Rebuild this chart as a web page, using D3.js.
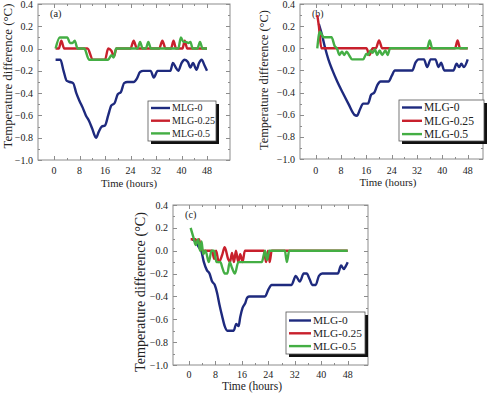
<!DOCTYPE html>
<html>
<head>
<meta charset="utf-8">
<script src="https://cdn.jsdelivr.net/npm/d3@7"></script>
<style>
  body { margin: 0; background: #fff; }
</style>
</head>
<body>
<div class="chart"></div>
<script>
// series names and colours
const names = ["MLG-0", "MLG-0.25", "MLG-0.5"];
const colors = ["#1e2a7e", "#c8202c", "#44ae44"];

const xTicks = [0, 8, 16, 24, 32, 40, 48];
const yTicks = [0.4, 0.2, 0.0, -0.2, -0.4, -0.6, -0.8, -1.0];

// panel (a): [hour, temperature difference]
const a_mlg0 = [[0.5,-0.1],[2,-0.1],[3,-0.2],[4,-0.29],[5,-0.3],[6,-0.31],[7,-0.4],[8,-0.47],[9,-0.53],[10,-0.6],[11,-0.65],[12,-0.72],[13.2,-0.8],[14,-0.75],[15,-0.7],[16,-0.69],[17,-0.6],[18,-0.51],[19,-0.49],[20,-0.41],[21,-0.39],[22,-0.31],[23,-0.3],[25,-0.3],[26,-0.27],[27,-0.21],[28,-0.2],[30.3,-0.2],[31.3,-0.26],[32.5,-0.2],[36.5,-0.2],[37.3,-0.13],[38.2,-0.17],[39,-0.2],[40,-0.13],[41,-0.1],[42,-0.12],[42.8,-0.17],[43.6,-0.13],[44.7,-0.19],[45.5,-0.13],[46.3,-0.1],[47.2,-0.15],[48,-0.2]];
const a_mlg025 = [[0.5,0],[1.5,0],[2.3,0.07],[3.2,0],[10.5,0],[12.2,-0.1],[16,-0.1],[17,0],[18,-0.02],[18.8,-0.07],[19.6,0],[24,0],[25,0.07],[26,0],[33,0],[34,0.07],[35,0],[36.7,0],[37.5,0.07],[38.3,0],[40.3,0],[41,0.07],[41.8,0],[48,0]];
const a_mlg05 = [[0.5,0],[1.8,0.1],[4.2,0.1],[5,0.05],[5.8,0.05],[6.5,0.07],[7.4,0],[9.5,0],[11,-0.1],[17,-0.1],[18,-0.06],[18.7,-0.08],[19.5,0],[26.2,0],[27,0.06],[27.8,0],[28.8,0],[29.6,0.06],[30.4,0],[39,0],[39.8,0.1],[40.6,0.06],[41.4,0.06],[42.2,0.05],[42.8,0.06],[43.5,0],[45,0],[45.8,0.06],[46.6,0],[48,0]];

// panel (b)
const b_mlg0 = [[1,0.22],[2,0.12],[3,0],[4,-0.1],[5.3,-0.2],[6.8,-0.3],[8.5,-0.4],[10.3,-0.5],[12.2,-0.6],[13,-0.61],[14,-0.55],[15,-0.5],[16.5,-0.5],[17.5,-0.42],[18.5,-0.4],[19.5,-0.33],[20.5,-0.3],[23,-0.3],[24,-0.25],[25,-0.2],[30.5,-0.2],[31.5,-0.13],[32.5,-0.1],[34.2,-0.1],[35.2,-0.17],[36.3,-0.1],[37.8,-0.1],[38.8,-0.17],[39.6,-0.13],[40.6,-0.2],[43.5,-0.2],[44.5,-0.14],[45.3,-0.17],[46,-0.14],[46.8,-0.17],[48,-0.1]];
const b_mlg025 = [[0.5,0.3],[1,0.2],[1.8,0],[16,0],[17,-0.06],[18,0],[19,0],[20,0.07],[21,0],[44,0],[44.8,0.07],[45.6,0],[48,0]];
const b_mlg05 = [[0.5,0],[1.3,0.15],[2.5,0.1],[5,0.1],[6,0.02],[6.7,0],[7.5,-0.06],[8.3,-0.03],[9,-0.06],[9.8,-0.03],[10.5,-0.06],[11.5,-0.1],[15,-0.1],[16,-0.05],[16.6,-0.06],[17.3,-0.02],[18,-0.04],[18.7,-0.01],[19.4,-0.06],[20.2,-0.02],[21,-0.06],[22,-0.02],[22.7,-0.06],[23.5,0],[35.2,0],[36,0.07],[36.8,0],[48,0]];

// panel (c)
const c_mlg0 = [[1,0.1],[2,0.08],[3,0.03],[3.7,0],[4.5,-0.1],[5.4,-0.17],[6.2,-0.2],[7,-0.27],[7.8,-0.3],[8.5,-0.37],[9.2,-0.47],[10,-0.57],[10.8,-0.66],[11.6,-0.7],[13.5,-0.7],[14.3,-0.64],[15,-0.66],[15.5,-0.58],[16.2,-0.5],[17,-0.46],[17.6,-0.41],[18.3,-0.4],[23,-0.4],[24,-0.34],[25,-0.3],[31,-0.3],[32.3,-0.22],[33.5,-0.27],[34.7,-0.2],[35.6,-0.2],[36.5,-0.25],[37.3,-0.3],[38.3,-0.3],[39.3,-0.22],[40.3,-0.2],[45,-0.2],[46,-0.13],[46.8,-0.16],[47.5,-0.13],[48,-0.1]];
const c_mlg025 = [[0.5,0.1],[2,0.1],[2.5,0.07],[3,0.1],[3.6,0.03],[4.2,0],[7,0],[7.6,-0.07],[8.2,0],[9,-0.1],[10,-0.04],[10.8,0.03],[11.8,-0.07],[12.4,-0.1],[13,-0.02],[13.6,-0.1],[14.2,0],[14.9,-0.1],[15.5,-0.03],[16.2,-0.1],[16.9,0],[22.7,0],[23.3,-0.1],[23.9,0],[24.4,-0.1],[25,0],[48,0]];
const c_mlg05 = [[0.5,0.2],[1.5,0.1],[2,0.05],[2.8,0.1],[3.3,0],[3.8,0.08],[4.3,-0.03],[5,0],[6,-0.1],[6.8,0],[7.6,0],[8.3,-0.1],[9.5,-0.1],[10.1,-0.15],[10.8,-0.2],[11.6,-0.2],[12.3,-0.1],[13,-0.15],[13.9,-0.2],[14.9,-0.1],[22,-0.1],[23,0],[23.6,-0.08],[24.3,0],[29,0],[29.6,-0.1],[30.3,0],[48,0]];

const width = 491, height = 393;
const svg = d3.select(".chart").append("svg")
  .attr("width", width)
  .attr("height", height)
  .attr("font-family", "'Liberation Serif', 'DejaVu Serif', serif")
  .attr("fill", "#222");

svg.append("rect").attr("width", width).attr("height", height).attr("fill", "#fff");

// layout of each panel (pixel positions and text widths)
const panels = [
  {label: "(a)", series: [a_mlg0, a_mlg025, a_mlg05],
   left: 38, right: 230, top: 4, bottom: 160, x0: 54, x48: 207,
   ytx: 8, yty: 76, ytw: 145, xtx: 129, xtw: 56, tickGap: 14, titleGap: 27,
   legend: {x: 148, y: 101, w: 68, h: 40, lw: 19, tw: 43, r0: 7, dr: 12.7}},
  {label: "(b)", series: [b_mlg0, b_mlg025, b_mlg05],
   left: 300, right: 483, top: 4, bottom: 159, x0: 315.7, x48: 467.7,
   ytx: 264, yty: 80, ytw: 140, xtx: 388, xtw: 57, tickGap: 15, titleGap: 27,
   legend: {x: 399, y: 100, w: 85, h: 41, lw: 20, tw: 50, r0: 7.5, dr: 13.3}},
  {label: "(c)", series: [c_mlg0, c_mlg025, c_mlg05],
   left: 173, right: 368, top: 205, bottom: 365, x0: 189, x48: 347.7,
   ytx: 140, yty: 292, ytw: 160, xtx: 252, xtw: 60, tickGap: 13, titleGap: 25,
   legend: {x: 286, y: 312, w: 79, h: 42, lw: 22, tw: 49, r0: 8.5, dr: 12.8}}
];

// scale a text's font size so that it spans the given width
function fit(sel, target) {
  sel.attr("font-size", 10);
  const len = sel.node().getComputedTextLength();
  if (len > 0) sel.attr("font-size", (10 * target / len).toFixed(2));
  return sel;
}

// font size giving "0.4" a width of about 12.5px
const probe = svg.append("text").text("0.4");
fit(probe, 12.5);
const tickSize = +probe.attr("font-size");
probe.remove();

panels.forEach(drawPanel);

function drawPanel(p) {
  const xScale = d3.scaleLinear().domain([0, 48]).range([p.x0, p.x48]);
  const yScale = d3.scaleLinear().domain([-1.0, 0.4]).range([p.bottom, p.top]);
  const g = svg.append("g");
  const frameColor = "#8c8c8c";

  // frame
  g.append("rect")
    .attr("x", p.left).attr("y", p.top)
    .attr("width", p.right - p.left).attr("height", p.bottom - p.top)
    .attr("fill", "none").attr("stroke", frameColor).attr("stroke-width", 1);

  // ticks (inward, all four sides)
  const xMinor = d3.range(0, 49, 4);
  const yMinor = d3.range(-10, 5).map(d => d / 10);
  const ticks = g.append("g").attr("stroke", frameColor).attr("stroke-width", 1);
  xMinor.forEach(v => {
    const len = v % 8 === 0 ? 4 : 2;
    const x = Math.round(xScale(v)) + 0.5;
    ticks.append("line").attr("x1", x).attr("x2", x).attr("y1", p.bottom).attr("y2", p.bottom - len);
    ticks.append("line").attr("x1", x).attr("x2", x).attr("y1", p.top).attr("y2", p.top + len);
  });
  yMinor.forEach(v => {
    const major = Math.round(v * 10) % 2 === 0;
    const len = major ? 4 : 2;
    const y = Math.round(yScale(v)) + 0.5;
    ticks.append("line").attr("x1", p.left).attr("x2", p.left + len).attr("y1", y).attr("y2", y);
    ticks.append("line").attr("x1", p.right).attr("x2", p.right - len).attr("y1", y).attr("y2", y);
  });

  // tick labels
  g.append("g").selectAll("text")
    .data(xTicks)
    .join("text")
    .attr("x", d => xScale(d))
    .attr("y", p.bottom + p.tickGap)
    .attr("text-anchor", "middle")
    .attr("font-size", tickSize)
    .text(d => d);

  g.append("g").selectAll("text")
    .data(yTicks)
    .join("text")
    .attr("x", p.left - 5)
    .attr("y", d => yScale(d) + tickSize * 0.35)
    .attr("text-anchor", "end")
    .attr("font-size", tickSize)
    .text(d => d3.format(".1f")(d));

  // axis titles
  g.append("text")
    .attr("x", p.xtx)
    .attr("y", p.bottom + p.titleGap)
    .attr("text-anchor", "middle")
    .text("Time (hours)")
    .call(fit, p.xtw);

  const yt = g.append("text")
    .attr("text-anchor", "middle")
    .text("Temperature difference (°C)")
    .call(fit, p.ytw);
  const yts = +yt.attr("font-size");
  yt.attr("transform", `translate(${p.ytx + yts * 0.35},${p.yty}) rotate(-90)`);

  g.append("text")
    .attr("x", p.left + 12)
    .attr("y", p.top + 13)
    .text(p.label)
    .call(fit, 11.5);

  // lines
  const line = d3.line()
    .x(d => xScale(d[0]))
    .y(d => yScale(d[1]))
    .curve(d3.curveMonotoneX);

  p.series.forEach((s, i) => {
    g.append("path")
      .datum(s)
      .attr("fill", "none")
      .attr("stroke", colors[i])
      .attr("stroke-width", 2.4)
      .attr("stroke-linejoin", "round")
      .attr("d", line);
  });

  // legend with drop shadow
  const L = p.legend;
  g.append("rect")
    .attr("x", L.x + 3).attr("y", L.y + 3)
    .attr("width", L.w).attr("height", L.h)
    .attr("fill", "#111");
  g.append("rect")
    .attr("x", L.x).attr("y", L.y)
    .attr("width", L.w).attr("height", L.h)
    .attr("fill", "#fff").attr("stroke", "#555").attr("stroke-width", 0.8);

  // font size from the width of the longest entry
  const lp = g.append("text").text("MLG-0.25").call(fit, L.tw);
  const ls = +lp.attr("font-size");
  lp.remove();

  names.forEach((n, i) => {
    const y = L.y + L.r0 + L.dr * i;
    g.append("line")
      .attr("x1", L.x + 3).attr("x2", L.x + 3 + L.lw)
      .attr("y1", y).attr("y2", y)
      .attr("stroke", colors[i]).attr("stroke-width", 2.4);
    g.append("text")
      .attr("x", L.x + 5 + L.lw)
      .attr("y", y + ls * 0.34)
      .attr("font-size", ls)
      .text(n);
  });
}
</script>
</body>
</html>
